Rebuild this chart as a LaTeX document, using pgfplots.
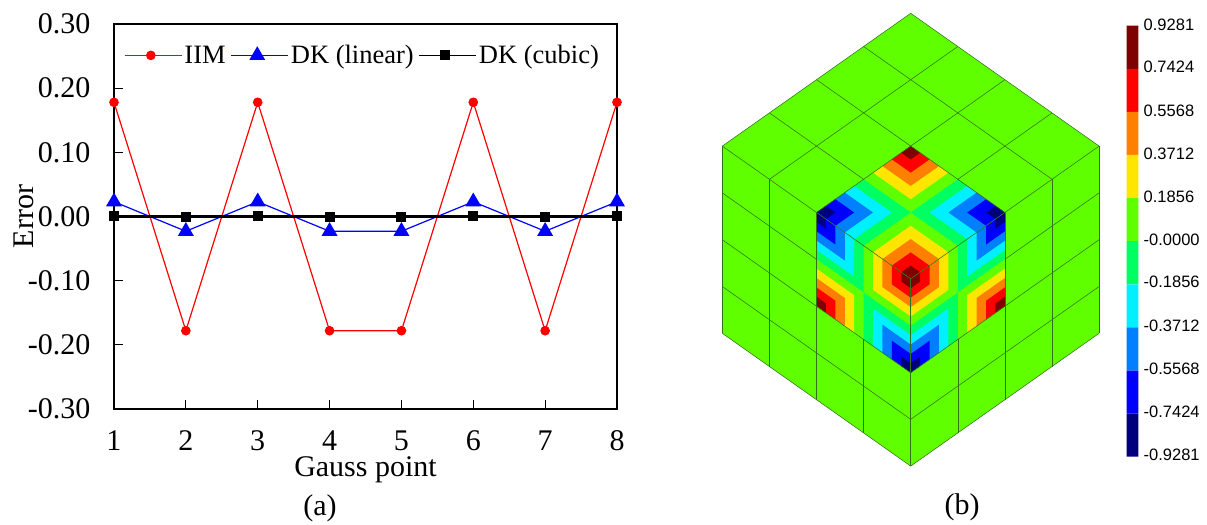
\documentclass[border=0pt]{standalone}
\usepackage{pgfplots}
\usepackage{pgfplotstable}
\pgfplotsset{compat=1.18}
\usepackage{fontspec}
\setmainfont{Liberation Serif}
\newfontfamily\arial{Liberation Sans}
\definecolor{pa}{RGB}{96,255,0}
\definecolor{pb}{RGB}{255,230,0}
\definecolor{pc}{RGB}{255,128,0}
\definecolor{pd}{RGB}{255,0,0}
\definecolor{pe}{RGB}{127,0,0}
\definecolor{na}{RGB}{0,255,96}
\definecolor{nb}{RGB}{0,240,255}
\definecolor{nc}{RGB}{0,128,255}
\definecolor{nd}{RGB}{0,0,255}
\definecolor{ne}{RGB}{0,0,127}
\definecolor{meshc}{RGB}{50,115,25}
\pgfplotstableread{
u v
0 0
1 0
1 1
0 1
0 0
}\unitcell
% one nested rhombus: corner, two cell vectors, size, colour
\newcommand\rhh[8]{\addplot[fill=#8,draw=none] table[x expr={#1+#7*((#3)*\thisrow{u}+(#5)*\thisrow{v})},y expr={#2+#7*((#4)*\thisrow{u}+(#6)*\thisrow{v})}] {\unitcell};}
\newcommand\nest[7]{%
\rhh{#1}{#2}{#3}{#4}{#5}{#6}{1}{#7a}%
\rhh{#1}{#2}{#3}{#4}{#5}{#6}{0.8}{#7b}%
\rhh{#1}{#2}{#3}{#4}{#5}{#6}{0.6}{#7c}%
\rhh{#1}{#2}{#3}{#4}{#5}{#6}{0.4}{#7d}%
\rhh{#1}{#2}{#3}{#4}{#5}{#6}{0.2}{#7e}}
\newcommand\ml[4]{\addplot[meshc,line width=0.55pt] coordinates {(#1,#2)(#3,#4)};}
\newcommand\cb[3]{\addplot[fill=#3,draw=none] coordinates {(1126.7,#1)(1138.3,#1)(1138.3,#2)(1126.7,#2)(1126.7,#1)};}
\newcommand\cl[2]{\node[anchor=west,inner sep=0pt,font=\fontsize{16.5}{18}\arial] at (axis cs:1143.5,#1) {#2};}
\begin{document}
\begin{tikzpicture}[x=1pt,y=1pt]
\path (0,0) rectangle (1207,523);
\begin{axis}[
  at={(114pt,114pt)},anchor=south west,
  width=503pt,height=385pt,scale only axis,
  xmin=1,xmax=8,ymin=-0.3,ymax=0.3,
  clip=false,
  axis line style={line width=1.2pt},
  tick style={line width=0.9pt,black},
  major tick length=8.5pt,
  tick align=inside,
  xtick={1,...,8},
  xtick pos=bottom,ytick pos=left,
  ytick={-0.3,-0.2,-0.1,0,0.1,0.2,0.3},
  yticklabels={-0.30,-0.20,-0.10,0.00,0.10,0.20,0.30},
  xticklabel style={font=\fontsize{30}{32}\selectfont,/pgf/number format/assume math mode=true,yshift=-18pt},
  yticklabel style={font=\fontsize{30}{32}\selectfont,xshift=-20pt},
  xlabel={Gauss point},
  ylabel={Error},
  xlabel style={font=\fontsize{30}{32}\selectfont,at={(axis description cs:0.5,0)},anchor=center,yshift=-61pt},
  ylabel style={font=\fontsize{30}{32}\selectfont,at={(axis description cs:0,0.5)},anchor=center,yshift=90pt},
  legend columns=3,
  legend cell align=left,
  legend style={draw=none,fill=none,at={(axis cs:1.14,0.27)},anchor=north west,
    font=\fontsize{26.5}{28}\selectfont,inner sep=0pt,
    /tikz/every even column/.append style={column sep=3pt}},
  legend image code/.code={\draw[mark repeat=2,mark phase=2,#1] plot coordinates {(0pt,0pt)(26pt,0pt)(52pt,0pt)};\path (0pt,0pt)--(57pt,0pt);},
]
\addplot[red,line width=1.2pt,mark=*,mark size=4.2pt,mark options={fill=red,solid}] coordinates {(1,0.178)(2,-0.178)(3,0.178)(4,-0.178)(5,-0.178)(6,0.178)(7,-0.178)(8,0.178)};
\addlegendentry{IIM}
\addplot[blue,line width=1.2pt,mark=triangle*,mark size=8pt,mark options={fill=blue,solid}] coordinates {(1,0.023)(2,-0.023)(3,0.023)(4,-0.023)(5,-0.023)(6,0.023)(7,-0.023)(8,0.023)};
\addlegendentry{DK (linear)}
\addplot[black,line width=1.2pt,mark=square*,mark size=4.4pt,mark options={fill=black,solid}] coordinates {(1,0.001)(2,-0.001)(3,0.001)(4,-0.001)(5,-0.001)(6,0.001)(7,-0.001)(8,0.001)};
\addlegendentry{DK (cubic)}
\addplot[black,line width=2.8pt,forget plot] coordinates {(1,0)(8,0)};
\end{axis}
\begin{axis}[
  at={(0pt,0pt)},anchor=south west,
  width=1207pt,height=523pt,scale only axis,
  xmin=0,xmax=1207,ymin=0,ymax=523,y dir=reverse,
  hide axis,clip=false,
]
% body
\addplot[fill=pa,draw=none] coordinates {(910.7,13.3)(1099.1,146.1)(1099.1,333.3)(910.7,466.1)(722.3,333.3)(722.3,146.1)(910.7,13.3)};
% top face of the cut
\nest{910.7}{146.1}{47.1}{33.2}{-47.1}{33.2}{p}
\nest{910.7}{278.9}{47.1}{-33.2}{-47.1}{-33.2}{p}
\nest{816.5}{212.5}{47.1}{-33.2}{47.1}{33.2}{n}
\nest{1004.9}{212.5}{-47.1}{-33.2}{-47.1}{33.2}{n}
% left face
\nest{910.7}{278.9}{-47.1}{-33.2}{0}{46.9}{p}
\nest{816.5}{212.5}{47.1}{33.2}{0}{46.8}{n}
\nest{816.5}{306.1}{0}{-46.8}{47.1}{33.2}{p}
\nest{910.7}{372.7}{-47.1}{-33.2}{0}{-46.9}{n}
% right face
\nest{910.7}{278.9}{47.1}{-33.2}{0}{46.9}{p}
\nest{1004.9}{212.5}{-47.1}{33.2}{0}{46.8}{n}
\nest{1004.9}{306.1}{0}{-46.8}{-47.1}{33.2}{p}
\nest{910.7}{372.7}{47.1}{-33.2}{0}{-46.9}{n}
% mesh: top
\ml{910.7}{13.3}{1099.1}{146.1}
\ml{863.6}{46.5}{1052}{179.3}
\ml{816.5}{79.7}{1004.9}{212.5}
\ml{769.4}{112.9}{863.6}{179.3}
\ml{722.3}{146.1}{816.5}{212.5}
\ml{910.7}{13.3}{722.3}{146.1}
\ml{957.8}{46.5}{769.4}{179.3}
\ml{1004.9}{79.7}{816.5}{212.5}
\ml{1052}{112.9}{957.8}{179.3}
\ml{1099.1}{146.1}{1004.9}{212.5}
% mesh: left
\ml{722.3}{192.9}{816.5}{259.3}
\ml{722.3}{239.7}{910.7}{372.7}
\ml{722.3}{286.5}{910.7}{419.3}
\ml{722.3}{333.3}{910.7}{466.1}
\ml{722.3}{146.1}{722.3}{333.3}
\ml{769.4}{179.3}{769.4}{366.5}
\ml{816.5}{212.5}{816.5}{399.7}
\ml{863.6}{339.3}{863.6}{432.9}
\ml{910.7}{372.7}{910.7}{466.1}
% mesh: right
\ml{1099.1}{192.9}{1004.9}{259.3}
\ml{1099.1}{239.7}{910.7}{372.7}
\ml{1099.1}{286.5}{910.7}{419.3}
\ml{1099.1}{333.3}{910.7}{466.1}
\ml{1099.1}{146.1}{1099.1}{333.3}
\ml{1052}{179.3}{1052}{366.5}
\ml{1004.9}{212.5}{1004.9}{399.7}
\ml{957.8}{339.3}{957.8}{432.9}
% mesh: inner edges
\ml{910.7}{278.9}{816.5}{212.5}
\ml{910.7}{278.9}{1004.9}{212.5}
\ml{910.7}{278.9}{910.7}{372.7}
% colour bar
\cb{25.7}{68.8}{pe}
\cb{68.8}{111.9}{pd}
\cb{111.9}{155}{pc}
\cb{155}{198.1}{pb}
\cb{198.1}{241.2}{pa}
\cb{241.2}{284.3}{na}
\cb{284.3}{327.4}{nb}
\cb{327.4}{370.5}{nc}
\cb{370.5}{413.6}{nd}
\cb{413.6}{456.7}{ne}
\cl{24.5}{0.9281}
\cl{67}{0.7424}
\cl{111}{0.5568}
\cl{153.5}{0.3712}
\cl{197}{0.1856}
\cl{239.5}{-0.0000}
\cl{282}{-0.1856}
\cl{326}{-0.3712}
\cl{368.5}{-0.5568}
\cl{412}{-0.7424}
\cl{455}{-0.9281}
\node[font=\fontsize{30}{32}\selectfont] at (axis cs:320,508) {(a)};
\node[font=\fontsize{30}{32}\selectfont] at (axis cs:962,507) {(b)};
\end{axis}
\end{tikzpicture}
\end{document}
